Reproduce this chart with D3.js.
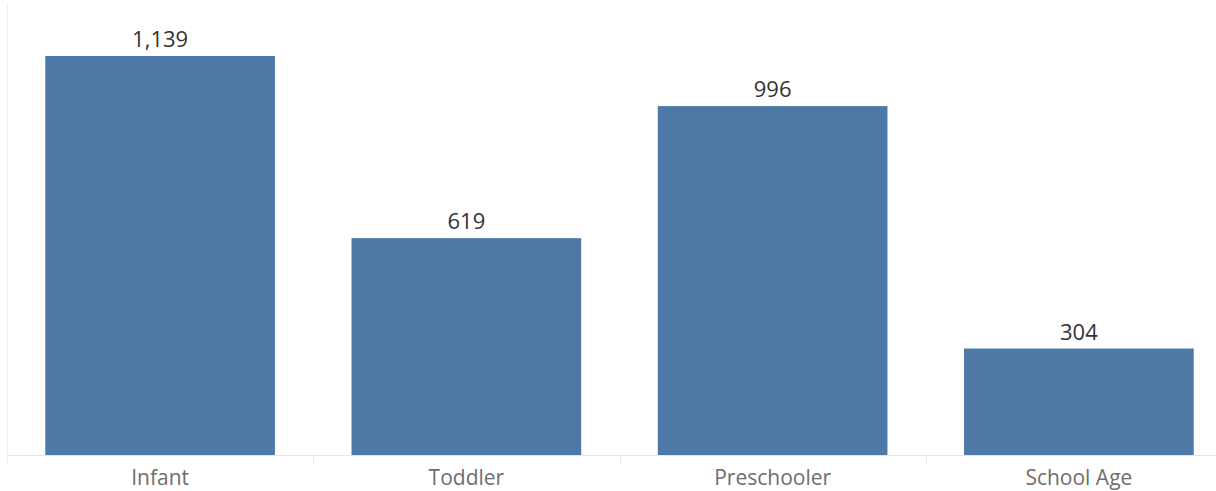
<!DOCTYPE html>
<html>
<head>
<meta charset="utf-8">
<script src="https://cdn.jsdelivr.net/npm/d3@7"></script>
<style>
  body { margin: 0; background: #fff; }
  text { font-family: "Open Sans", sans-serif; }
</style>
</head>
<body>
<div class="chart_area"></div>
<script>
// the data
var categories = ["Infant", "Toddler", "Preschooler", "School Age"];
var counts = [1139, 619, 996, 304];

var width = 1216, height = 491;
var margin_px = { top: 0, left: 7, right: -16, bottom: 0 };
var base_y = 455;

var svg = d3.select(".chart_area")
  .append("svg")
    .attr("width", width)
    .attr("height", height);

var figure_data = categories.map((c, i) => ({ category: c, value: counts[i] }));

var x_scale = d3.scaleBand()
  .domain(categories)
  .range([margin_px.left, width - margin_px.right])
  .paddingInner(0.25)
  .paddingOuter(0.125)
  .align(0.5);

// cells without padding, for the separators
var cell_scale = d3.scaleBand()
  .domain(categories)
  .range([margin_px.left, width - margin_px.right]);

var y_scale = d3.scaleLinear()
  .domain([0, 1139])
  .range([base_y, 56]);

// left pane border
svg.append("line")
  .attr("x1", 7.5).attr("x2", 7.5)
  .attr("y1", 3).attr("y2", 465)
  .attr("stroke", "#f0f0f0");

// baseline
svg.append("line")
  .attr("x1", 7).attr("x2", width)
  .attr("y1", base_y + 0.5).attr("y2", base_y + 0.5)
  .attr("stroke", "#e6e6e6");

// separators between categories
svg.selectAll(".sep")
  .data(categories.slice(1))
  .enter()
  .append("line")
    .attr("class", "sep")
    .attr("x1", d => Math.round(cell_scale(d)) + 0.5)
    .attr("x2", d => Math.round(cell_scale(d)) + 0.5)
    .attr("y1", base_y + 1)
    .attr("y2", 465)
    .attr("stroke", "#eaeaea");

svg.selectAll("rect")
  .data(figure_data)
  .enter()
  .append("rect")
    .attr("fill", "#4e79a7")
    .attr("x", d => x_scale(d.category))
    .attr("y", d => y_scale(d.value))
    .attr("width", x_scale.bandwidth())
    .attr("height", d => base_y - y_scale(d.value));

svg.selectAll(".value_label")
  .data(figure_data)
  .enter()
  .append("text")
    .attr("class", "value_label")
    .attr("x", d => x_scale(d.category) + x_scale.bandwidth() / 2)
    .attr("y", d => y_scale(d.value) - 9)
    .attr("text-anchor", "middle")
    .attr("font-size", 22)
    .attr("fill", "#333")
    .text(d => d3.format(",")(d.value));

svg.selectAll(".cat_label")
  .data(figure_data)
  .enter()
  .append("text")
    .attr("class", "cat_label")
    .attr("x", d => x_scale(d.category) + x_scale.bandwidth() / 2)
    .attr("y", 485)
    .attr("text-anchor", "middle")
    .attr("font-size", 21)
    .attr("fill", "#6e6e6e")
    .text(d => d.category);
</script>
</body>
</html>
